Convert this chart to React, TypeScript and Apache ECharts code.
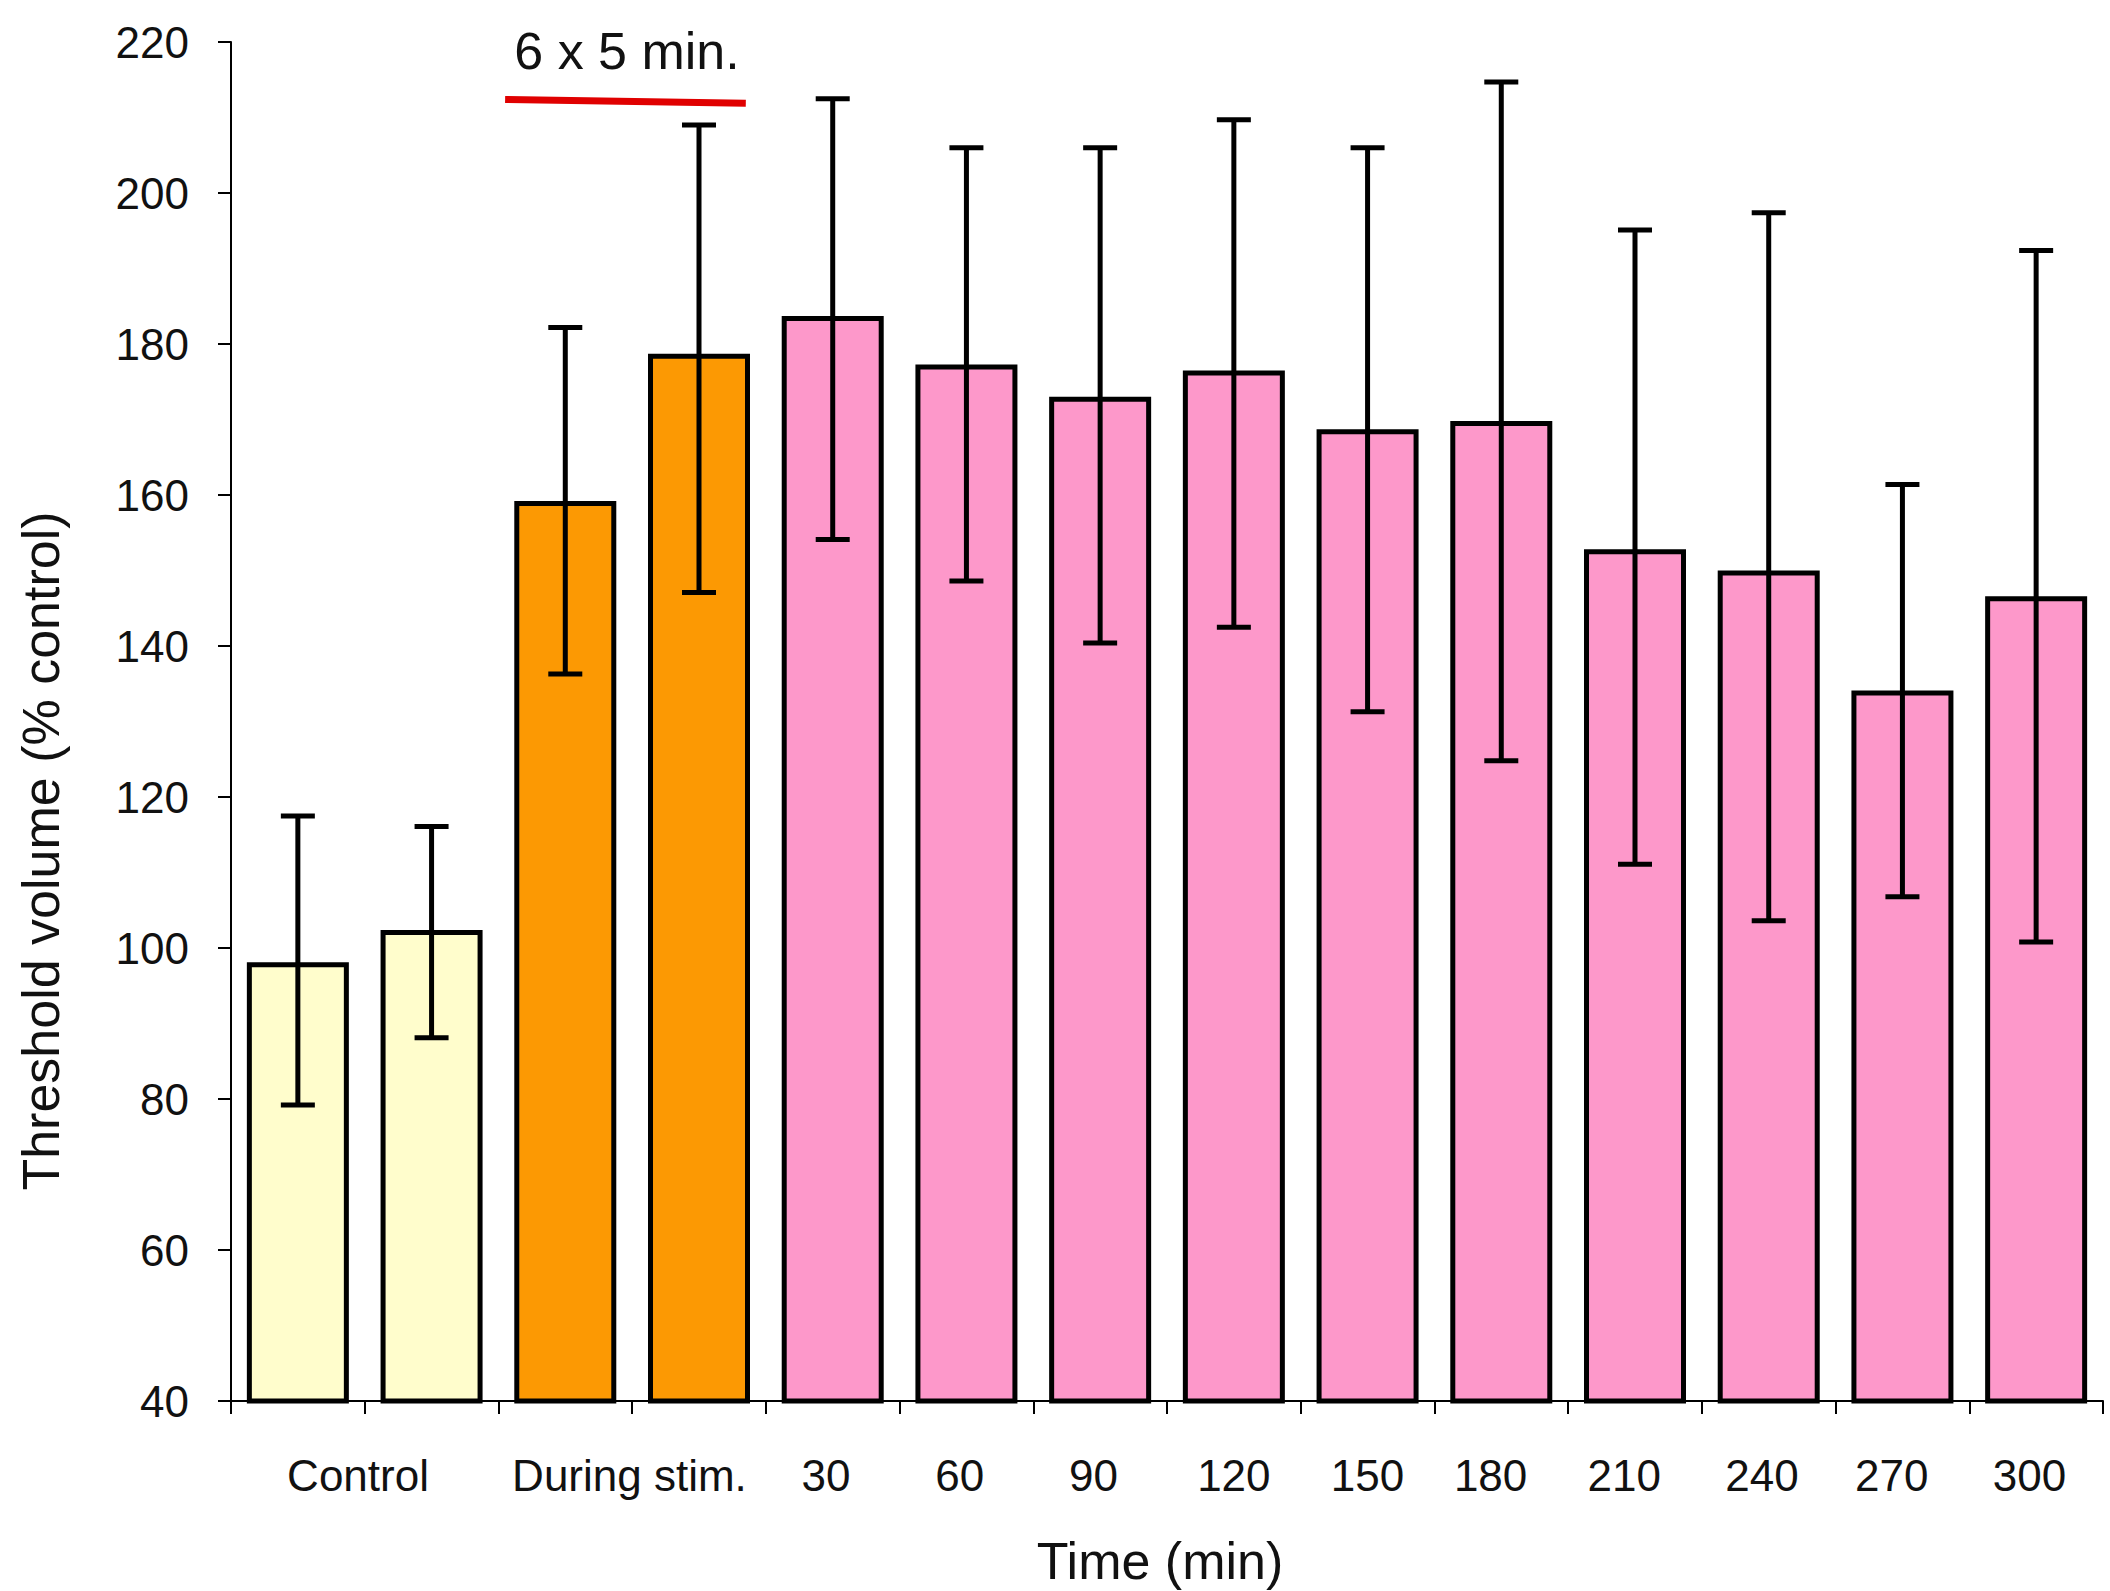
import React, { useEffect, useRef } from "react";
import * as echarts from "echarts";

const categories = [
  "Control 1", "Control 2", "During stim. 1", "During stim. 2",
  "30", "60", "90", "120", "150", "180", "210", "240", "270", "300",
];
const means = [98.1, 102.4, 159.2, 178.7, 183.7, 177.3, 173.0, 176.5, 168.7, 169.8, 152.8, 150.0, 134.1, 146.6];
const errLow = [79.2, 88.1, 136.3, 147.1, 154.1, 148.6, 140.4, 142.5, 131.3, 124.8, 111.1, 103.6, 106.8, 100.8];
const errHigh = [117.5, 116.1, 182.2, 209.0, 212.5, 206.0, 206.0, 209.7, 206.0, 214.7, 195.1, 197.4, 161.4, 192.4];
const groups = ["control", "control", "stim", "stim", "post", "post", "post", "post", "post", "post", "post", "post", "post", "post"];
const groupColors: Record<string, string> = { control: "#FFFDCC", stim: "#FC9903", post: "#FD98CA" };

// x tick labels and their positions in category units (0 = left edge of first bar slot)
const xTickLabels = ["Control", "During stim.", "30", "60", "90", "120", "150", "180", "210", "240", "270", "300"];
const xTickPositions = [0.95, 2.98, 4.45, 5.45, 6.45, 7.5, 8.5, 9.42, 10.42, 11.45, 12.42, 13.45];

// stimulation bar annotation (category units, y value)
const stimLine = [[2.05, 212.4], [3.85, 211.9]];
const stimLabel = "6 x 5 min.";

const yTicks = { min: 40, max: 220, interval: 20 };

const FONT = "'Liberation Sans', Arial, sans-serif";

export default function App() {
  const ref = useRef<HTMLDivElement>(null);
  useEffect(() => {
    document.body.style.margin = "0";
    document.body.style.overflow = "hidden";
    const chart = echarts.init(ref.current!, null, { renderer: "svg" });
    const labelMap = new Map<number, string>();
    xTickPositions.forEach((p, i) => labelMap.set(p, xTickLabels[i]));
    const option: any = {
      animation: false,
      backgroundColor: "#ffffff",
      grid: { left: 231, right: 7, top: 42, bottom: 190, containLabel: false },
      xAxis: [
        {
          type: "category",
          data: categories,
          boundaryGap: true,
          axisLine: { show: true, lineStyle: { color: "#000", width: 2 } },
          axisTick: { show: true, length: 13, lineStyle: { color: "#000", width: 2 } },
          axisLabel: { show: false },
          splitLine: { show: false },
        },
        {
          type: "value",
          min: 0,
          max: 14,
          position: "bottom",
          axisLine: { show: false },
          axisTick: { show: false },
          splitLine: { show: false },
          axisLabel: {
            show: true,
            customValues: xTickPositions,
            formatter: (v: number) => labelMap.get(v) ?? "",
            fontFamily: FONT,
            fontSize: 44,
            color: "#111",
            margin: 52,
            showMinLabel: true,
            showMaxLabel: true,
          },
        },
      ],
      yAxis: {
        type: "value",
        min: yTicks.min,
        max: yTicks.max,
        interval: yTicks.interval,
        axisLine: { show: true, lineStyle: { color: "#000", width: 2 } },
        axisTick: { show: true, length: 13, lineStyle: { color: "#000", width: 2 } },
        splitLine: { show: false },
        axisLabel: { fontFamily: FONT, fontSize: 44, color: "#111", margin: 42 },
      },
      series: [
        {
          type: "bar",
          xAxisIndex: 0,
          barWidth: 102,
          data: means.map((m, i) => ({
            value: m,
            itemStyle: { color: groupColors[groups[i]], borderColor: "#000", borderWidth: 5 },
          })),
          z: 2,
        },
        {
          type: "custom",
          xAxisIndex: 0,
          z: 3,
          data: errLow.map((l, i) => [i, l, errHigh[i]]),
          encode: { x: 0, y: [1, 2] },
          renderItem: (params: any, api: any) => {
            const x = api.value(0);
            const lo = api.coord([x, api.value(1)]);
            const hi = api.coord([x, api.value(2)]);
            const half = 17;
            const style = { stroke: "#000", lineWidth: 5 };
            return {
              type: "group",
              children: [
                { type: "line", shape: { x1: hi[0], y1: hi[1], x2: lo[0], y2: lo[1] }, style },
                { type: "line", shape: { x1: hi[0] - half, y1: hi[1], x2: hi[0] + half, y2: hi[1] }, style },
                { type: "line", shape: { x1: lo[0] - half, y1: lo[1], x2: lo[0] + half, y2: lo[1] }, style },
              ],
            };
          },
        },
        {
          type: "line",
          xAxisIndex: 1,
          data: stimLine,
          symbol: "none",
          lineStyle: { color: "#E00000", width: 7 },
          z: 4,
        },
      ],
      graphic: [
        {
          type: "text",
          x: 627,
          y: 51,
          style: {
            text: stimLabel,
            fontFamily: FONT,
            fontSize: 52,
            fill: "#111",
            textAlign: "center",
            textVerticalAlign: "middle",
          },
        },
        {
          type: "text",
          x: 1160,
          y: 1561,
          style: {
            text: "Time (min)",
            fontFamily: FONT,
            fontSize: 52,
            fill: "#111",
            textAlign: "center",
            textVerticalAlign: "middle",
          },
        },
        {
          type: "text",
          x: 41,
          y: 851,
          rotation: Math.PI / 2,
          style: {
            text: "Threshold volume (% control)",
            fontFamily: FONT,
            fontSize: 52,
            fill: "#111",
            textAlign: "center",
            textVerticalAlign: "middle",
          },
        },
      ],
    };
    chart.setOption(option);
    return () => chart.dispose();
  }, []);
  return <div ref={ref} style={{ width: 2110, height: 1591 }} />;
}
